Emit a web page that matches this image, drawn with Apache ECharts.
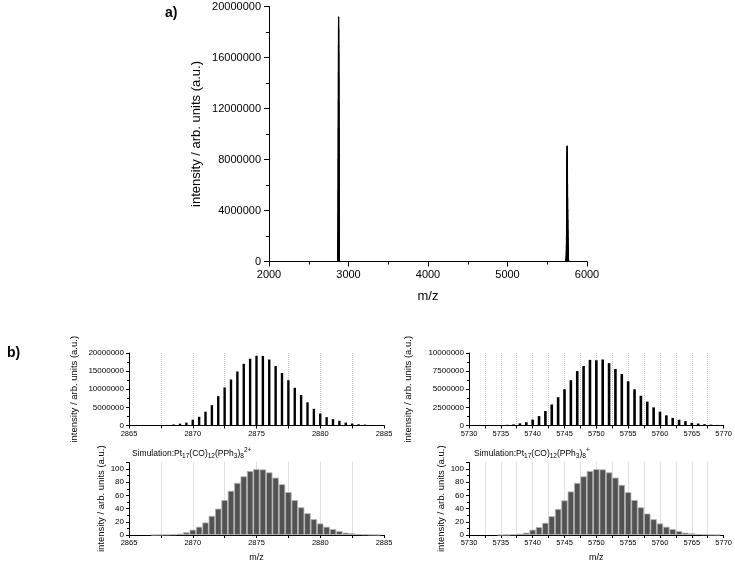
<!DOCTYPE html>
<html><head><meta charset="utf-8">
<script src="https://cdn.jsdelivr.net/npm/echarts@6/dist/echarts.min.js"></script>
<style>html,body{margin:0;padding:0;background:#fff}#c{width:735px;height:563px}</style>
</head><body><div id="c"></div>
<script>
// ---- measured spectrum, 2+ cluster ----
const expLeftMz = [2866.5,2867.0,2867.5,2868.0,2868.5,2869.0,2869.5,2870.0,2870.5,2871.0,2871.5,2872.0,2872.5,2873.0,2873.5,2874.0,2874.5,2875.0,2875.5,2876.0,2876.5,2877.0,2877.5,2878.0,2878.5,2879.0,2879.5,2880.0,2880.5,2881.0,2881.5,2882.0,2882.5,2883.0,2883.5,2884.0,2884.5];
const expLeftInt = [50000,80000,100000,150000,300000,500000,800000,1600000,2400000,3800000,5600000,8100000,10500000,12700000,14900000,17000000,18400000,19200000,19200000,18200000,16400000,14500000,12500000,10400000,8400000,6400000,4600000,3300000,2300000,1750000,1300000,800000,550000,350000,250000,150000,100000];
// ---- measured spectrum, 1+ cluster ----
const expRightMz = [5733,5734,5735,5736,5737,5738,5739,5740,5741,5742,5743,5744,5745,5746,5747,5748,5749,5750,5751,5752,5753,5754,5755,5756,5757,5758,5759,5760,5761,5762,5763,5764,5765,5766,5767,5768,5769];
const expRightInt = [30000,50000,70000,100000,150000,300000,450000,800000,1300000,2000000,2900000,3900000,5000000,6250000,7500000,8200000,9050000,9000000,9100000,8600000,7800000,7100000,6100000,5000000,4100000,3300000,2500000,1900000,1400000,1050000,800000,600000,370000,270000,180000,120000,80000];
// ---- simulation, 2+ ----
const simLeftMz = [2867.0,2867.5,2868.0,2868.5,2869.0,2869.5,2870.0,2870.5,2871.0,2871.5,2872.0,2872.5,2873.0,2873.5,2874.0,2874.5,2875.0,2875.5,2876.0,2876.5,2877.0,2877.5,2878.0,2878.5,2879.0,2879.5,2880.0,2880.5,2881.0,2881.5,2882.0,2882.5,2883.0,2883.5,2884.0,2884.5];
const simLeftInt = [0.15,0.3,0.6,1,2,4,8,12.5,19,29,40,53,67,79,89,97,100,99.5,95,87,77,65,53,42,33,24,17.5,12.5,9,6,3.5,2.5,1.5,1,0.5,0.3];
// ---- simulation, 1+ ----
const simRightMz = [5735,5736,5737,5738,5739,5740,5741,5742,5743,5744,5745,5746,5747,5748,5749,5750,5751,5752,5753,5754,5755,5756,5757,5758,5759,5760,5761,5762,5763,5764,5765,5766,5767,5768,5769];
const simRightInt = [0.15,0.3,1,2,3.5,8,12,18.5,28.5,39.5,52.5,66,79,89,97,100,99.5,95,87,76,65,53,42,32.5,24,17.5,12.5,9,6,3.5,2.5,1.5,1,0.5,0.3];

const yTitle = 'intensity / arb. units (a.u.)';
const xTitle = 'm/z';
const FONT = '"Liberation Sans", Arial, sans-serif';

const pairs = (xs, ys) => xs.map((x, i) => [x, ys[i]]);

const chart = echarts.init(document.getElementById('c'), null, {renderer: 'canvas'});

function subX(gridIndex, min, max) {
  return {
    type: 'value', gridIndex, min, max, interval: 2.5,
    axisLine: {show: true, onZero: false, lineStyle: {color: '#000', width: 1}},
    axisTick: {show: true, length: 3, lineStyle: {color: '#000'}},
    axisLabel: {fontSize: 7.5, color: '#000', fontFamily: FONT, margin: 4,
      formatter: v => (Math.abs(v % 5) < 1e-6 ? String(v) : '')},
    splitLine: {show: true, showMinLine: false, showMaxLine: false,
      lineStyle: {type: 'dotted', color: '#c4c4c4', width: 1}}
  };
}
function subX2(gridIndex, min, max, nameGap) {
  const a = subX(gridIndex, min, max);
  a.name = xTitle; a.nameLocation = 'middle'; a.nameGap = nameGap;
  a.nameTextStyle = {fontSize: 9, color: '#000', fontFamily: FONT};
  return a;
}
function subY(gridIndex, max, interval, nameGap, showMax) {
  return {
    type: 'value', gridIndex, min: 0, max, interval,
    name: yTitle, nameLocation: 'middle', nameGap,
    nameTextStyle: {fontSize: 9.5, color: '#000', fontFamily: FONT},
    axisLine: {show: true, lineStyle: {color: '#000', width: 1}},
    axisTick: {show: true, length: 3, lineStyle: {color: '#000'}},
    minorTick: {show: true, splitNumber: 2, length: 2, lineStyle: {color: '#000'}},
    axisLabel: {fontSize: 8, color: '#000', fontFamily: FONT, margin: 5,
      showMaxLabel: showMax, formatter: v => String(v)},
    splitLine: {show: false}
  };
}

const option = {
  animation: false,
  backgroundColor: '#fff',
  grid: [
    {left: 269, top: 6.5, width: 318, height: 255},
    {left: 129, top: 353, width: 255, height: 72.5},
    {left: 129, top: 462.5, width: 255, height: 73},
    {left: 469, top: 353, width: 256, height: 72.5},
    {left: 469, top: 462.5, width: 256, height: 73}
  ],
  xAxis: [
    {
      type: 'value', gridIndex: 0, min: 2000, max: 6000, interval: 1000,
      name: xTitle, nameLocation: 'middle', nameGap: 28,
      nameTextStyle: {fontSize: 13, color: '#000', fontFamily: FONT},
      axisLine: {show: true, onZero: false, lineStyle: {color: '#000', width: 1}},
      axisTick: {show: true, length: 5, lineStyle: {color: '#000'}},
      minorTick: {show: true, splitNumber: 2, length: 3, lineStyle: {color: '#000'}},
      axisLabel: {fontSize: 11, color: '#000', fontFamily: FONT, margin: 8, formatter: v => String(v)},
      splitLine: {show: false}
    },
    subX(1, 2865, 2885),
    subX2(2, 2865, 2885, 18),
    subX(3, 5730, 5770),
    subX2(4, 5730, 5770, 18)
  ],
  yAxis: [
    {
      type: 'value', gridIndex: 0, min: 0, max: 20000000, interval: 4000000,
      name: yTitle, nameLocation: 'middle', nameGap: 66,
      nameTextStyle: {fontSize: 13, color: '#000', fontFamily: FONT},
      axisLine: {show: true, lineStyle: {color: '#000', width: 1}},
      axisTick: {show: true, length: 5, lineStyle: {color: '#000'}},
      minorTick: {show: true, splitNumber: 2, length: 3, lineStyle: {color: '#000'}},
      axisLabel: {fontSize: 11, color: '#000', fontFamily: FONT, margin: 8, formatter: v => String(v)},
      splitLine: {show: false}
    },
    subY(1, 20000000, 5000000, 50, true),
    subY(2, 110, 20, 18, false),
    subY(3, 10000000, 2500000, 56, true),
    subY(4, 110, 20, 20, false)
  ],
  series: [
    {type: 'bar', xAxisIndex: 0, yAxisIndex: 0, barWidth: 1.2,
      itemStyle: {color: '#000'},
      data: pairs(expLeftMz, expLeftInt).concat(pairs(expRightMz, expRightInt))},
    {type: 'bar', xAxisIndex: 1, yAxisIndex: 1, barWidth: 2.4,
      itemStyle: {color: '#000'}, data: pairs(expLeftMz, expLeftInt)},
    {type: 'bar', xAxisIndex: 2, yAxisIndex: 2, barWidth: 6.4,
      itemStyle: {color: '#525252', borderColor: '#b4b4b4', borderWidth: 0.8},
      data: pairs(simLeftMz, simLeftInt)},
    {type: 'bar', xAxisIndex: 3, yAxisIndex: 3, barWidth: 2.6,
      itemStyle: {color: '#000'}, data: pairs(expRightMz, expRightInt)},
    {type: 'bar', xAxisIndex: 4, yAxisIndex: 4, barWidth: 6.4,
      itemStyle: {color: '#525252', borderColor: '#b4b4b4', borderWidth: 0.8},
      data: pairs(simRightMz, simRightInt)}
  ],
  graphic: [
    {type: 'text', left: 165, top: 6, style: {text: 'a)', fontSize: 14, fontWeight: 'bold', fill: '#000', fontFamily: FONT}},
    {type: 'text', left: 7, top: 346, style: {text: 'b)', fontSize: 14, fontWeight: 'bold', fill: '#000', fontFamily: FONT}},
    {type: 'text', left: 132, top: 447, style: {
      text: 'Simulation:Pt{sub|17}(CO){sub|12}(PPh{sub|3}){sub|8}{sup|2+}',
      fontSize: 8.5, fill: '#000', fontFamily: FONT, lineHeight: 13,
      rich: {sub: {fontSize: 6.5, verticalAlign: 'bottom', lineHeight: 13, fontFamily: FONT},
             sup: {fontSize: 6.5, verticalAlign: 'top', lineHeight: 13, fontFamily: FONT}}}},
    {type: 'text', left: 474, top: 447, style: {
      text: 'Simulation:Pt{sub|17}(CO){sub|12}(PPh{sub|3}){sub|8}{sup|+}',
      fontSize: 8.5, fill: '#000', fontFamily: FONT, lineHeight: 13,
      rich: {sub: {fontSize: 6.5, verticalAlign: 'bottom', lineHeight: 13, fontFamily: FONT},
             sup: {fontSize: 6.5, verticalAlign: 'top', lineHeight: 13, fontFamily: FONT}}}}
  ]
};
chart.setOption(option);
</script>
</body></html>
